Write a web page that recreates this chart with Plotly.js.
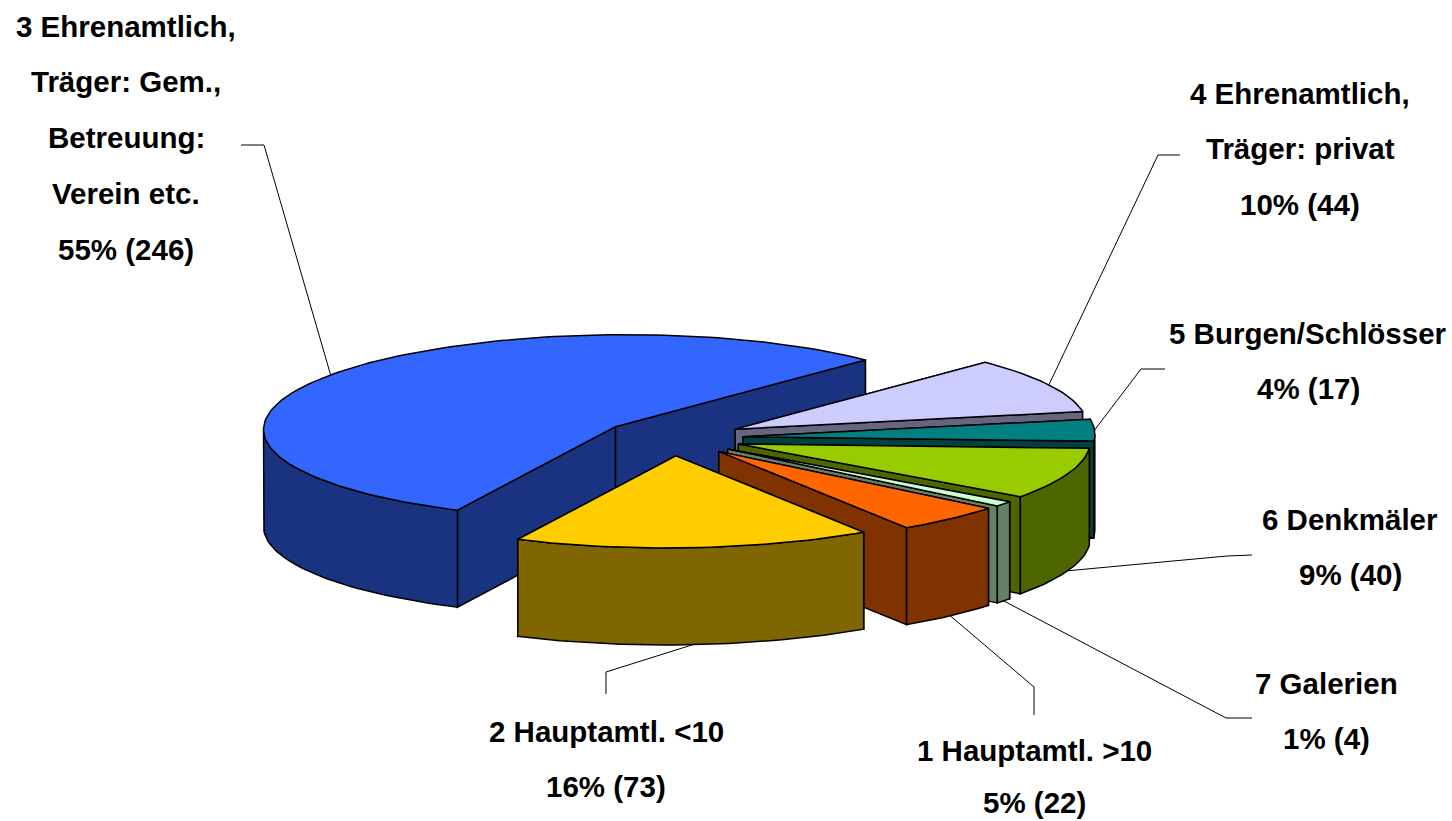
<!DOCTYPE html>
<html>
<head>
<meta charset="utf-8">
<script src="https://cdn.plot.ly/plotly-3.0.1.min.js"></script>
<style>html,body{margin:0;padding:0;background:#fff}#chart{width:1452px;height:821px}</style>
</head>
<body>
<div id="chart"></div>
<script>
// ---- data (in clockwise pie order) ----
const categories = [
  ["1 Hauptamtl. >10"],
  ["2 Hauptamtl. <10"],
  ["3 Ehrenamtlich,", "Träger: Gem.,", "Betreuung:", "Verein etc."],
  ["4 Ehrenamtlich,", "Träger: privat"],
  ["5 Burgen/Schlösser"],
  ["6 Denkmäler"],
  ["7 Galerien"]
];
const values = [22, 73, 246, 44, 17, 40, 4];

// ---- styles ----
const topColors  = ["#FF6600", "#FFCC00", "#3366FF", "#CCCCFF", "#008080", "#99CC00", "#CCFFCC"];
const sideColors = ["#803300", "#806600", "#1A3380", "#666680", "#004040", "#4D6600", "#668066"];

// ---- pie geometry (pixel axes) ----
const CX = 672.5, CY = 437.5, RX = 352, RY = 92, DEPTH = 97, EXPLODE = 0.2, START_DEG = 40, TILT = -0.008;
const FONT_SIZE = 29.5;
// first line centre position, line gap and leader elbows for each category
const labelX = [1034, 606, 126, 1300, 1308, 1350, 1326];
const labelTop = [750, 731, 26, 93, 333, 519, 683];
const labelGap = [52.8, 55.8, 55.8, 55.8, 55.8, 55.8, 55.8];
const leaderElbow = [
  [[1034, 715], [1034, 687]],
  [[606, 694], [606, 672]],
  [[241, 145], [264, 145]],
  [[1180, 155], [1158, 155]],
  [[1165, 369], [1141, 369]],
  [[1252, 555], [1227, 556]],
  [[1252, 718], [1226, 718]]
];
const paintOrder = [2, 3, 4, 5, 6, 0, 1];

const total = values.reduce((a, b) => a + b, 0);
const rad = d => d * Math.PI / 180;
let cursor = START_DEG;
const slices = values.map((v, i) => {
  const a0 = cursor, a1 = cursor + v / total * 360;
  cursor = a1;
  const mid = (a0 + a1) / 2;
  return {
    i, a0, a1, mid,
    ox: CX + EXPLODE * RX * Math.cos(rad(mid)),
    oy: CY + EXPLODE * RY * Math.sin(rad(mid))
  };
});
const rim = (s, deg, z) => {
  const dx = RX * Math.cos(rad(deg));
  return [s.ox + dx, s.oy + RY * Math.sin(rad(deg)) + TILT * dx + z];
};
function arc(s, from, to, z) {
  const n = Math.max(2, Math.ceil(Math.abs(to - from) / 1.5));
  const pts = [];
  for (let k = 0; k <= n; k++) pts.push(rim(s, from + (to - from) * k / n, z));
  return pts;
}
function poly(pts, fill) {
  const closed = pts.concat([pts[0]]);
  return {
    type: 'scatter', mode: 'lines', fill: 'toself', fillcolor: fill,
    x: closed.map(p => p[0]), y: closed.map(p => p[1]),
    line: { color: '#000', width: 1.5 }, hoverinfo: 'skip', showlegend: false
  };
}
const traces = [];

// leader lines
slices.forEach(s => {
  const front = Math.sin(rad(s.mid)) > 0;
  const anchor = rim(s, s.mid, front ? DEPTH : 0);
  const pts = leaderElbow[s.i].concat([anchor]);
  traces.push({
    type: 'scatter', mode: 'lines', x: pts.map(p => p[0]), y: pts.map(p => p[1]),
    line: { color: '#000', width: 1 }, hoverinfo: 'skip', showlegend: false
  });
});

// slices
paintOrder.forEach(idx => {
  const s = slices[idx], side = sideColors[idx];
  [s.a0, s.a1].forEach(a => {
    const r = rim(s, a, 0), rb = rim(s, a, DEPTH);
    traces.push(poly([[s.ox, s.oy], r, rb, [s.ox, s.oy + DEPTH]], side));
  });
  // visible (front) part of the outer wall
  [[0, 180], [360, 540]].forEach(([lo, hi]) => {
    const f = Math.max(s.a0, lo), t = Math.min(s.a1, hi);
    if (t > f) {
      traces.push(poly(arc(s, f, t, 0).concat(arc(s, t, f, DEPTH)), side));
    }
  });
  traces.push(poly([[s.ox, s.oy]].concat(arc(s, s.a0, s.a1, 0)), topColors[idx]));
});

// labels
const annotations = [];
slices.forEach(s => {
  const pct = Math.round(values[s.i] / total * 100) + "% (" + values[s.i] + ")";
  categories[s.i].concat([pct]).forEach((line, k) => {
    annotations.push({
      x: labelX[s.i], y: labelTop[s.i] + k * labelGap[s.i], xref: 'x', yref: 'y',
      text: line, showarrow: false, xanchor: 'center', yanchor: 'middle',
      font: { family: 'Liberation Sans, Arial, sans-serif', size: FONT_SIZE, color: '#000', weight: 700 }
    });
  });
});

Plotly.newPlot('chart', traces, {
  width: 1452, height: 821,
  margin: { l: 0, r: 0, t: 0, b: 0 },
  paper_bgcolor: '#fff', plot_bgcolor: '#fff',
  showlegend: false,
  xaxis: { range: [0, 1452], visible: false, fixedrange: true },
  yaxis: { range: [821, 0], visible: false, fixedrange: true },
  annotations
}, { displayModeBar: false, staticPlot: true });
</script>
</body>
</html>
